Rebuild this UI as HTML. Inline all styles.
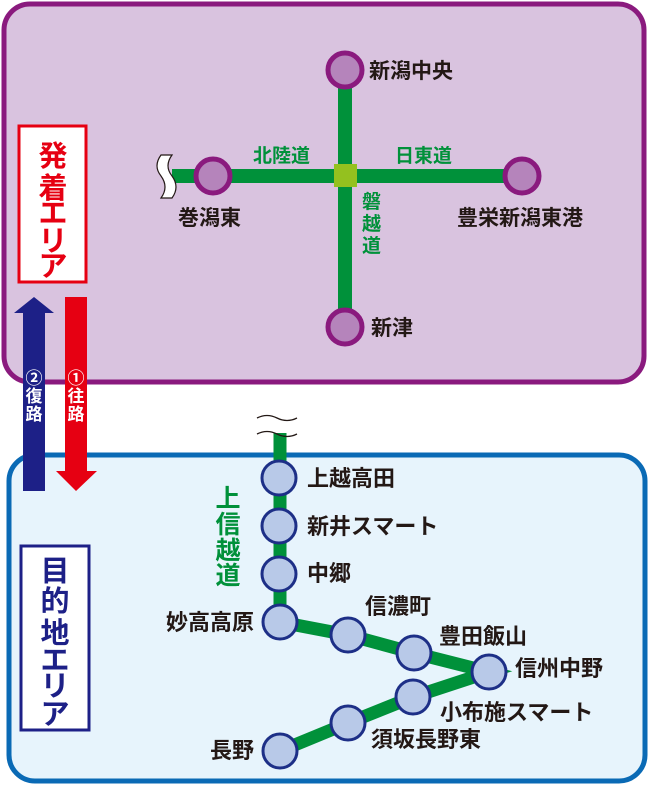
<!DOCTYPE html>
<html><head><meta charset="utf-8"><style>
html,body{margin:0;padding:0;background:#fff;}
svg{display:block;}
text{font-family:"Liberation Sans","Noto Sans CJK JP",sans-serif;font-weight:bold;}
</style></head><body>
<svg width="650" height="785" viewBox="0 0 650 785" xmlns="http://www.w3.org/2000/svg">
<rect x="4" y="4" width="640" height="378" rx="26" fill="#d9c3df" stroke="#8a1a7e" stroke-width="5"/>
<rect x="9" y="455" width="636" height="326" rx="26" fill="#e7f4fc" stroke="#0a6ab5" stroke-width="5"/>

<line x1="345" y1="70" x2="345" y2="327" stroke="#00913a" stroke-width="14"/>
<line x1="172" y1="176" x2="522" y2="176" stroke="#00913a" stroke-width="14"/>
<rect x="334" y="164" width="23" height="23" fill="#94c11f"/>
<path d="M161 155 q-8 11 0 21 q8 11 0 22 L172 198 q8 -11 0 -22 q-8 -10 0 -21 Z" fill="#fff" stroke="#231815" stroke-width="1.2"/>
<g fill="#b584bb" stroke="#8a1a7e" stroke-width="5">
<circle cx="345" cy="70" r="17"/>
<circle cx="213" cy="176" r="17"/>
<circle cx="522" cy="176" r="17"/>
<circle cx="345" cy="327" r="17"/>
</g>
<g fill="#00913a" font-size="19">
<text x="253" y="162">北陸道</text>
<text x="395" y="162">日東道</text>
<text x="362" y="208">磐</text>
<text x="362" y="230">越</text>
<text x="362" y="252">道</text>
</g>
<g fill="#231815" font-size="21">
<text x="369" y="78">新潟中央</text>
<text x="178" y="225">巻潟東</text>
<text x="457" y="225">豊栄新潟東港</text>
<text x="371" y="335">新津</text>
</g>

<rect x="19" y="126" width="67" height="156" fill="#fff" stroke="#e60012" stroke-width="3"/>
<g fill="#e60012" font-size="29" text-anchor="middle">
<text x="53" y="166">発</text>
<text x="53" y="198">着</text>
<text x="53" y="223">エ</text>
<text x="53" y="251">リ</text>
<text x="53" y="276">ア</text>
</g>
<polygon points="23,491 45,491 45,313 54,313 34,297 14,313 23,313" fill="#1d2087"/>
<polygon points="65,297 87,297 87,471 97,471 76,491 56,471 65,471" fill="#e60012"/>
<g fill="#fff" font-size="17" text-anchor="middle">
<text x="34" y="384">②</text>
<text x="34" y="402">復</text>
<text x="34" y="420">路</text>
<text x="76" y="384">①</text>
<text x="76" y="402">往</text>
<text x="76" y="420">路</text>
</g>

<rect x="21" y="546" width="68" height="184" fill="#fff" stroke="#1d2087" stroke-width="3"/>
<g fill="#1d2087" font-size="29" text-anchor="middle">
<text x="55" y="581">目</text>
<text x="55" y="611">的</text>
<text x="55" y="643">地</text>
<text x="55" y="670">エ</text>
<text x="55" y="696">リ</text>
<text x="55" y="724">ア</text>
</g>

<polyline points="280,433 280,622 348,635 414,653 489,672 413,697 348,723 280,751" fill="none" stroke="#00913a" stroke-width="13" stroke-linejoin="miter"/>
<path d="M257 418 q10 -5 20 0 t20 0 M257 434 q10 -5 20 0 t20 0" fill="none" stroke="#231815" stroke-width="1.3"/>
<g fill="#b8c9e8" stroke="#1d2f87" stroke-width="3">
<circle cx="279" cy="478" r="17"/>
<circle cx="279" cy="526" r="17"/>
<circle cx="279" cy="574" r="17"/>
<circle cx="280" cy="622" r="17"/>
<circle cx="348" cy="635" r="17"/>
<circle cx="414" cy="653" r="17"/>
<circle cx="489" cy="672" r="17"/>
<circle cx="413" cy="697" r="17"/>
<circle cx="348" cy="723" r="17"/>
<circle cx="280" cy="751" r="17"/>
</g>
<g fill="#00913a" font-size="25" text-anchor="middle">
<text x="228" y="507">上</text>
<text x="228" y="533">信</text>
<text x="228" y="559">越</text>
<text x="228" y="584">道</text>
</g>
<g fill="#231815" font-size="22">
<text x="307" y="486">上越高田</text>
<text x="307" y="534">新井スマート</text>
<text x="307" y="581">中郷</text>
<text x="254" y="630" text-anchor="end">妙高高原</text>
<text x="365" y="614">信濃町</text>
<text x="439" y="644">豊田飯山</text>
<text x="515" y="676">信州中野</text>
<text x="440" y="720">小布施スマート</text>
<text x="371" y="747">須坂長野東</text>
<text x="254" y="758" text-anchor="end">長野</text>
</g>
</svg>
</body></html>
